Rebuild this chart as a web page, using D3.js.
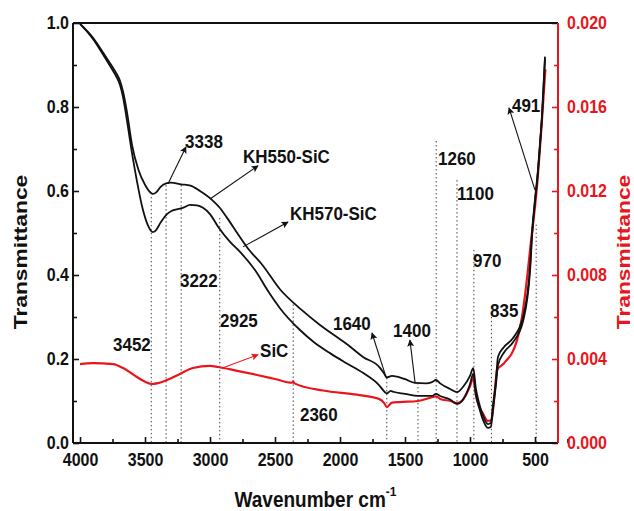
<!DOCTYPE html>
<html>
<head>
<meta charset="utf-8">
<script src="https://cdn.jsdelivr.net/npm/d3@7"></script>
<style>
	body { margin: 0; background: #fff; }
	text { font-family: 'Liberation Sans', Arial, sans-serif; font-weight: bold; }
</style>
</head>
<body>
<div id="chart"></div>
<script>
// values
const wnKH550 = [4000, 3900, 3823, 3750, 3720, 3692, 3670, 3640, 3600, 3550, 3500, 3460, 3440, 3410, 3380, 3338, 3300, 3222, 3150, 3077, 2985, 2925, 2869, 2769, 2700, 2600, 2462, 2300, 2154, 2000, 1946, 1823, 1692, 1660, 1640, 1600, 1560, 1500, 1423, 1340, 1292, 1262, 1230, 1150, 1100, 1050, 1000, 975, 955, 930, 900, 862, 840, 823, 800, 785, 740, 669, 592, 538, 523, 500, 480, 460, 446, 423];
const tKH550 = [0.998, 0.965, 0.93, 0.895, 0.88, 0.862, 0.838, 0.79, 0.71, 0.65, 0.615, 0.597, 0.593, 0.598, 0.61, 0.618, 0.62, 0.616, 0.613, 0.6, 0.579, 0.56, 0.536, 0.49, 0.46, 0.425, 0.366, 0.318, 0.281, 0.247, 0.235, 0.205, 0.179, 0.165, 0.156, 0.16, 0.158, 0.152, 0.143, 0.142, 0.145, 0.15, 0.142, 0.128, 0.121, 0.135, 0.16, 0.178, 0.13, 0.095, 0.065, 0.045, 0.048, 0.09, 0.15, 0.205, 0.228, 0.25, 0.3, 0.42, 0.5, 0.58, 0.64, 0.72, 0.78, 0.92];

const wnKH570 = [4000, 3900, 3823, 3750, 3720, 3692, 3670, 3654, 3600, 3560, 3520, 3480, 3440, 3420, 3380, 3331, 3300, 3231, 3200, 3154, 3100, 3054, 3000, 2938, 2846, 2769, 2650, 2550, 2462, 2308, 2200, 2077, 1950, 1823, 1700, 1654, 1640, 1610, 1592, 1500, 1400, 1292, 1262, 1230, 1150, 1100, 1050, 1000, 975, 955, 930, 900, 862, 840, 823, 800, 785, 740, 669, 592, 538, 523, 500, 480, 460, 446, 423];
const tKH570 = [0.998, 0.962, 0.925, 0.888, 0.872, 0.852, 0.825, 0.797, 0.69, 0.62, 0.56, 0.52, 0.502, 0.505, 0.525, 0.545, 0.552, 0.558, 0.561, 0.567, 0.566, 0.56, 0.545, 0.515, 0.479, 0.455, 0.41, 0.36, 0.321, 0.269, 0.24, 0.214, 0.19, 0.167, 0.138, 0.121, 0.118, 0.124, 0.122, 0.117, 0.112, 0.112, 0.117, 0.112, 0.103, 0.093, 0.105, 0.14, 0.165, 0.115, 0.085, 0.055, 0.036, 0.038, 0.08, 0.14, 0.185, 0.215, 0.24, 0.29, 0.41, 0.49, 0.575, 0.635, 0.715, 0.775, 0.915];

const wnSiC = [4000, 3900, 3746, 3669, 3562, 3500, 3446, 3400, 3331, 3231, 3131, 3000, 2938, 2800, 2638, 2500, 2370, 2360, 2350, 2131, 1869, 1700, 1660, 1640, 1600, 1538, 1400, 1285, 1262, 1230, 1150, 1100, 1050, 1000, 975, 960, 946, 900, 862, 835, 810, 792, 738, 638, 600, 562, 538, 485, 446, 420];
const tSiC = [0.00376, 0.0038, 0.00376, 0.00357, 0.00314, 0.00292, 0.00281, 0.00285, 0.003, 0.00329, 0.00357, 0.00367, 0.00362, 0.00345, 0.00324, 0.00305, 0.00287, 0.00293, 0.00284, 0.0025, 0.0023, 0.0021, 0.0019, 0.00171, 0.00192, 0.00195, 0.002, 0.00219, 0.00222, 0.0021, 0.002, 0.0019, 0.0021, 0.0027, 0.0031, 0.0025, 0.00205, 0.0014, 0.00105, 0.0011, 0.0024, 0.00348, 0.0038, 0.0049, 0.006, 0.0078, 0.0092, 0.0122, 0.0154, 0.0178];

const peakWn = [3452, 3338, 3222, 2925, 2360, 1640, 1400, 1260, 1100, 970, 835, 491];
const xTicks = [4000, 3500, 3000, 2500, 2000, 1500, 1000, 500];
const leftTicks = [0, 0.2, 0.4, 0.6, 0.8, 1.0];
const rightTicks = [0, 0.004, 0.008, 0.012, 0.016, 0.020];

var ftirChart = function () {
	'use strict';
	let chart = {};
	let svg;
	const black = '#111';
	const red = '#e8161c';
	const totalW = 634, totalH = 511;
	let margin = { top: 23, bottom: 68, left: 73, right: 76 };
	const width = totalW - margin.left - margin.right;
	const height = totalH - margin.top - margin.bottom;

	const x = d3.scaleLinear().domain([4054, 323]).range([0, width]);
	const yL = d3.scaleLinear().domain([0, 1]).range([height, 0]);
	const yR = d3.scaleLinear().domain([0, 0.02]).range([height, 0]);

	// dotted guide tops (left-axis units) and label anchors, in peakWn order
	const guideTop = [0.586, 0.614, 0.614, 0.536, 0.33, 0.155, 0.143, 0.719, 0.626, 0.46, 0.31, 0.52];
	const labelPos = [[3746, 0.219], [3192, 0.702], [3231, 0.371], [2923, 0.276], [2308, 0.052], [2054, 0.269],
		[1592, 0.252], [1246, 0.662], [1100, 0.579], [977, 0.419], [846, 0.30], [677, 0.788]];

	function drawSvg() {
		d3.selectAll('#chart svg').remove();
		let root = d3.select('#chart').append('svg')
			.attr('width', totalW)
			.attr('height', totalH);
		root.append('rect').attr('width', totalW).attr('height', totalH).attr('fill', '#fff');
		let defs = root.append('defs');
		[['arrBlack', black], ['arrRed', red]].forEach(function (m) {
			defs.append('marker')
				.attr('id', m[0])
				.attr('viewBox', '0 0 10 10')
				.attr('refX', 9).attr('refY', 5)
				.attr('markerWidth', 9).attr('markerHeight', 7)
				.attr('markerUnits', 'userSpaceOnUse')
				.attr('orient', 'auto')
				.append('path')
				.attr('d', 'M0,0 L10,5 L0,10 L2,5 Z')
				.attr('fill', m[1]);
		});
		svg = root.append('g')
			.attr('transform', 'translate(' + margin.left + ',' + margin.top + ')');
	}

	function drawLine(x1, y1, x2, y2, color, w) {
		svg.append('line')
			.attr('x1', x1).attr('y1', y1)
			.attr('x2', x2).attr('y2', y2)
			.style('stroke', color)
			.style('stroke-width', w);
	}

	function drawArrow(w1, v1, w2, v2, color, marker) {
		svg.append('line')
			.attr('x1', x(w1)).attr('y1', yL(v1))
			.attr('x2', x(w2)).attr('y2', yL(v2))
			.style('stroke', color)
			.style('stroke-width', 1.1)
			.attr('marker-end', 'url(#' + marker + ')');
	}

	function writeText(str, w, v, color) {
		svg.append('text')
			.attr('transform', 'translate(' + x(w) + ',' + yL(v) + ') scale(1,1.12)')
			.style('font-size', '17px')
			.style('fill', color)
			.text(str);
	}

	function drawAxes() {
		let bottom = svg.append('g').attr('transform', 'translate(0,' + height + ')')
			.call(d3.axisBottom(x).tickValues(xTicks).tickSize(-6).tickPadding(9).tickFormat(d3.format('d')));
		bottom.append('g')
			.call(d3.axisBottom(x).tickValues(xTicks.map(function (d) { return d - 250; })).tickSize(-4).tickFormat(''));

		let left = svg.append('g')
			.call(d3.axisLeft(yL).tickValues(leftTicks).tickSize(-6).tickPadding(4).tickFormat(d3.format('.1f')));
		left.append('g')
			.call(d3.axisLeft(yL).tickValues(leftTicks.slice(1).map(function (d) { return d - 0.1; })).tickSize(-4).tickFormat(''));

		let right = svg.append('g').attr('transform', 'translate(' + width + ',0)')
			.call(d3.axisRight(yR).tickValues(rightTicks).tickSize(-6).tickPadding(9).tickFormat(d3.format('.3f')));
		right.append('g')
			.call(d3.axisRight(yR).tickValues(rightTicks.slice(1).map(function (d) { return d - 0.002; })).tickSize(-4).tickFormat(''));

		svg.selectAll('.domain').remove();
		svg.selectAll('.tick line').style('stroke-width', 1.6).style('stroke', black);
		svg.selectAll('.tick text').style('font-size', '16px').style('fill', black)
			.attr('transform', 'scale(1,1.12)');
		right.selectAll('.tick line').style('stroke', red);
		right.selectAll('.tick text').style('fill', red);

		// frame
		drawLine(0, 0, width, 0, black, 2);
		drawLine(0, 0, 0, height, black, 2);
		drawLine(0, height, width, height, black, 2);
		drawLine(width, 0, width, height, red, 2);
	}

	function drawTitles() {
		svg.append('text')
			.attr('transform', 'translate(' + (27 - margin.left) + ',' + (height / 2 + 19) + ') rotate(-90) scale(1.2,1)')
			.style('text-anchor', 'middle').style('font-size', '19px').style('fill', black)
			.text('Transmittance');
		svg.append('text')
			.attr('transform', 'translate(' + (width + 72) + ',' + (height / 2 + 19) + ') rotate(-90) scale(1.2,1)')
			.style('text-anchor', 'middle').style('font-size', '19px').style('fill', red)
			.text('Transmittance');
		let xt = svg.append('text')
			.attr('transform', 'translate(' + (width / 2) + ',' + (height + 64) + ') scale(1,1.12)')
			.style('text-anchor', 'middle').style('font-size', '19px').style('fill', black);
		xt.append('tspan').text('Wavenumber cm');
		xt.append('tspan').attr('dy', -10).style('font-size', '12px').text('-1');
	}

	function drawGuides() {
		peakWn.forEach(function (p, i) {
			svg.append('line')
				.attr('x1', x(p)).attr('x2', x(p))
				.attr('y1', yL(guideTop[i])).attr('y2', height)
				.style('stroke', '#444')
				.style('stroke-width', 1)
				.style('stroke-dasharray', '1.5,2.5');
			writeText(String(p), labelPos[i][0], labelPos[i][1], black);
		});
	}

	function drawSeries() {
		let lineL = d3.line()
			.x(function (d) { return x(d[0]); })
			.y(function (d) { return yL(d[1]); })
			.curve(d3.curveMonotoneX);
		let lineR = d3.line()
			.x(function (d) { return x(d[0]); })
			.y(function (d) { return yR(d[1]); })
			.curve(d3.curveMonotoneX);
		svg.append('path')
			.datum(d3.zip(wnSiC, tSiC))
			.attr('d', lineR)
			.style('fill', 'none').style('stroke', red).style('stroke-width', 2.2);
		svg.append('path')
			.datum(d3.zip(wnKH570, tKH570))
			.attr('d', lineL)
			.style('fill', 'none').style('stroke', black).style('stroke-width', 1.8);
		svg.append('path')
			.datum(d3.zip(wnKH550, tKH550))
			.attr('d', lineL)
			.style('fill', 'none').style('stroke', black).style('stroke-width', 1.8);
	}

	function drawNotes() {
		writeText('KH550-SiC', 2746, 0.667, black);
		writeText('KH570-SiC', 2385, 0.531, black);
		writeText('SiC', 2615, 0.205, black);
		drawArrow(3323, 0.617, 3185, 0.705, black, 'arrBlack');
		drawArrow(3000, 0.581, 2631, 0.660, black, 'arrBlack');
		drawArrow(2746, 0.467, 2400, 0.526, black, 'arrBlack');
		drawArrow(2900, 0.179, 2631, 0.21, red, 'arrRed');
		drawArrow(1646, 0.157, 1754, 0.262, black, 'arrBlack');
		drawArrow(1423, 0.145, 1462, 0.245, black, 'arrBlack');
		drawArrow(500, 0.602, 700, 0.798, black, 'arrBlack');
	}

	chart.render = function () {
		drawSvg();
		drawGuides();
		drawSeries();
		drawAxes();
		drawTitles();
		drawNotes();
	};

	return chart;
};

ftirChart().render();
</script>
</body>
</html>
